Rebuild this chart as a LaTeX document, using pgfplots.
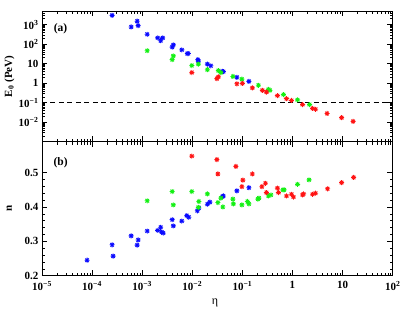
\documentclass[border=0pt]{standalone}
\usepackage{fontspec}
\setmainfont{Liberation Serif}
\usepackage{pgfplots}
\pgfplotsset{compat=1.18}
\definecolor{rblue}{RGB}{10,10,255}
\definecolor{rgreen}{RGB}{20,240,20}
\definecolor{rred}{RGB}{255,20,20}
\pgfdeclareplotmark{rstar}{%
  \pgfpathmoveto{\pgfqpoint{-\pgfplotmarksize}{0pt}}\pgfpathlineto{\pgfqpoint{\pgfplotmarksize}{0pt}}%
  \pgfpathmoveto{\pgfqpoint{0pt}{-\pgfplotmarksize}}\pgfpathlineto{\pgfqpoint{0pt}{\pgfplotmarksize}}%
  \pgfpathmoveto{\pgfqpoint{-0.707\pgfplotmarksize}{-0.707\pgfplotmarksize}}\pgfpathlineto{\pgfqpoint{0.707\pgfplotmarksize}{0.707\pgfplotmarksize}}%
  \pgfpathmoveto{\pgfqpoint{-0.707\pgfplotmarksize}{0.707\pgfplotmarksize}}\pgfpathlineto{\pgfqpoint{0.707\pgfplotmarksize}{-0.707\pgfplotmarksize}}%
  \pgfusepathqstroke}
\begin{document}
\begin{tikzpicture}
\useasboundingbox (0pt,0pt) rectangle (415pt,316pt);
\begin{axis}[at={(42pt,174.3pt)}, anchor=south west,
  scale only axis, width=350.7pt, height=130.7pt,
  xmode=log, xmin=1e-5, xmax=1e2,
  xtick={1e-5,1e-4,1e-3,1e-2,1e-1,1,10,100},
  minor xtick={2e-5,3e-5,4e-5,5e-5,6e-5,7e-5,8e-5,9e-5,2e-4,3e-4,4e-4,5e-4,6e-4,7e-4,8e-4,9e-4,2e-3,3e-3,4e-3,5e-3,6e-3,7e-3,8e-3,9e-3,2e-2,3e-2,4e-2,5e-2,6e-2,7e-2,8e-2,9e-2,0.2,0.3,0.4,0.5,0.6,0.7,0.8,0.9,2,3,4,5,6,7,8,9,20,30,40,50,60,70,80,90},
  tick align=inside, xtick pos=both, ytick pos=both,
  axis line style={line width=0.8pt},
  every tick/.style={black, line width=0.6pt},
  major tick length=5.5pt, minor tick length=3pt,
  ticklabel style={font=\fontsize{11}{13}\selectfont\bfseries},
  label style={font=\fontsize{11}{13}\selectfont\bfseries},
  ymode=log, ymin=1e-3, ymax=5e3,
  ytick={1e-2,1e-1,1,10,100,1000},
  yticklabels={10\textsuperscript{−2},10\textsuperscript{−1},1,10,10\textsuperscript{2},10\textsuperscript{3}},
  minor ytick={2e-3,3e-3,4e-3,5e-3,6e-3,7e-3,8e-3,9e-3,2e-2,3e-2,4e-2,5e-2,6e-2,7e-2,8e-2,9e-2,0.2,0.3,0.4,0.5,0.6,0.7,0.8,0.9,2,3,4,5,6,7,8,9,20,30,40,50,60,70,80,90,200,300,400,500,600,700,800,900,2000,3000,4000,5000},
  xticklabels={},
  ylabel={E\textsubscript{0} (PeV)},
  ylabel style={at={(axis description cs:-0.093,0.5)}, anchor=center},
]
\addplot[black, line width=0.9pt, dash pattern=on 5pt off 3.5pt] coordinates {(1e-5,0.1) (1e2,0.1)};
\addplot[only marks, mark=rstar, mark size=2.5pt, line width=0.9pt, color=rblue] coordinates {
(2.51e-4,3000) (6.03e-4,760) (7.94e-4,1500) (8.32e-4,890) (1.26e-3,320)
(2.04e-3,210) (2.34e-3,150) (2.57e-3,210) (3.98e-3,70) (4.17e-3,92)
(6.17e-3,51) (7.94e-3,33) (8.32e-3,33) (1.29e-2,16) (1.32e-2,13.5)
(2.00e-2,9.5) (2.34e-2,7.8) (3.98e-2,4.0) (4.17e-2,3.9) (7.76e-2,2.0) (0.135,1.23)
};
\addplot[only marks, mark=rstar, mark size=2.5pt, line width=0.9pt, color=rgreen] coordinates {
(1.26e-3,46) (3.98e-3,16) (4.17e-3,25) (9.77e-3,8) (1.32e-2,9.5)
(2.00e-2,4.9) (3.31e-2,4.4) (3.72e-2,3.5) (6.46e-2,2.2) (9.77e-2,1.6)
(0.209,0.78) (0.331,0.48) (0.355,0.43) (0.661,0.26) (1.259,0.14) (2.188,0.080)
};
\addplot[only marks, mark=rstar, mark size=2.5pt, line width=0.9pt, color=rred] coordinates {
(9.77e-3,3.5) (3.09e-2,1.7) (3.31e-2,2.1) (7.76e-2,0.93) (0.1,0.97)
(0.158,0.57) (0.251,0.43) (0.302,0.35) (0.501,0.23) (0.759,0.16)
(0.955,0.13) (1.585,0.08) (2.512,0.051) (2.884,0.046) (4.898,0.028)
(9.55,0.017) (16.2,0.011)
};
\node[font=\fontsize{11.5}{13}\selectfont\bfseries] at (axis description cs:0.053,0.862) {(a)};
\end{axis}
\begin{axis}[at={(42pt,40.3pt)}, anchor=south west,
  scale only axis, width=350.7pt, height=134pt,
  xmode=log, xmin=1e-5, xmax=1e2,
  xtick={1e-5,1e-4,1e-3,1e-2,1e-1,1,10,100},
  minor xtick={2e-5,3e-5,4e-5,5e-5,6e-5,7e-5,8e-5,9e-5,2e-4,3e-4,4e-4,5e-4,6e-4,7e-4,8e-4,9e-4,2e-3,3e-3,4e-3,5e-3,6e-3,7e-3,8e-3,9e-3,2e-2,3e-2,4e-2,5e-2,6e-2,7e-2,8e-2,9e-2,0.2,0.3,0.4,0.5,0.6,0.7,0.8,0.9,2,3,4,5,6,7,8,9,20,30,40,50,60,70,80,90},
  tick align=inside, xtick pos=both, ytick pos=both,
  axis line style={line width=0.8pt},
  every tick/.style={black, line width=0.6pt},
  major tick length=5.5pt, minor tick length=3pt,
  ticklabel style={font=\fontsize{11}{13}\selectfont\bfseries},
  xticklabel style={yshift=-2pt},
  label style={font=\fontsize{11}{13}\selectfont\bfseries},
  ymin=0.2, ymax=0.59,
  ytick={0.2,0.3,0.4,0.5}, yticklabels={0.2,0.3,0.4,0.5},
  minor y tick num=4,
  xticklabels={10\textsuperscript{−5},10\textsuperscript{−4},10\textsuperscript{−3},10\textsuperscript{−2},10\textsuperscript{−1},1,10,10\textsuperscript{2}},
  ylabel={n},
  ylabel style={at={(axis description cs:-0.093,0.5)}, anchor=center},
  xlabel={η},
  xlabel style={at={(axis description cs:0.493,-0.2)}, anchor=center, font=\fontsize{12}{14}\selectfont},
]
\addplot[only marks, mark=rstar, mark size=2.5pt, line width=0.9pt, color=rblue] coordinates {
(7.94e-5,0.245) (2.51e-4,0.290) (2.63e-4,0.257) (6.03e-4,0.316) (7.94e-4,0.289)
(8.32e-4,0.304) (1.26e-3,0.330) (2.04e-3,0.332) (2.34e-3,0.341) (2.45e-3,0.327)
(2.63e-3,0.324) (3.98e-3,0.363) (4.17e-3,0.345) (6.17e-3,0.359) (7.76e-3,0.375)
(8.51e-3,0.370) (1.26e-2,0.389) (1.35e-2,0.397) (2.00e-2,0.408) (2.24e-2,0.414)
(3.98e-2,0.430) (4.17e-2,0.432) (7.76e-2,0.447) (0.135,0.456)
};
\addplot[only marks, mark=rstar, mark size=2.5pt, line width=0.9pt, color=rgreen] coordinates {
(1.26e-3,0.418) (3.98e-3,0.445) (4.17e-3,0.406) (9.77e-3,0.445) (1.35e-2,0.416)
(1.32e-2,0.399) (2.00e-2,0.438) (3.24e-2,0.413) (3.72e-2,0.426) (4.07e-2,0.400)
(6.46e-2,0.423) (6.61e-2,0.409) (9.77e-2,0.406) (0.126,0.416) (0.135,0.409)
(0.204,0.423) (0.214,0.426) (0.331,0.432) (0.372,0.435) (0.646,0.450) (0.68,0.450)
(1.259,0.466) (2.138,0.479)
};
\addplot[only marks, mark=rstar, mark size=2.5pt, line width=0.9pt, color=rred] coordinates {
(9.77e-3,0.548) (3.09e-2,0.538) (3.24e-2,0.496) (7.41e-2,0.518) (0.102,0.478)
(9.77e-2,0.459) (0.158,0.496) (0.245,0.459) (0.288,0.469) (0.302,0.442)
(0.501,0.455) (0.525,0.442) (0.759,0.432) (0.955,0.437) (1.047,0.429)
(1.585,0.435) (1.660,0.438) (2.512,0.437) (2.884,0.440) (5.012,0.453)
(9.55,0.471) (16.6,0.486)
};
\node[font=\fontsize{11.5}{13}\selectfont\bfseries] at (axis description cs:0.053,0.845) {(b)};
\end{axis}
\end{tikzpicture}
\end{document}
